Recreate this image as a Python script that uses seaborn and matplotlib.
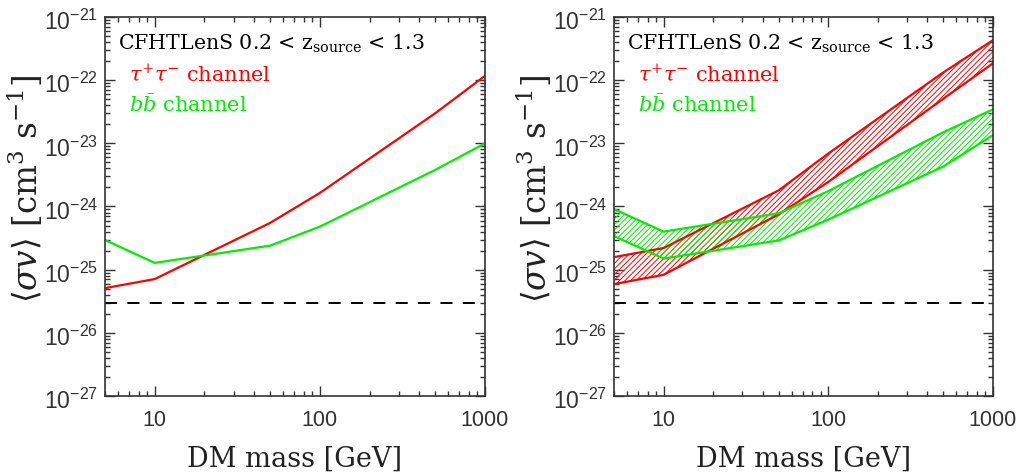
import numpy as np
import pandas as pd
import matplotlib
matplotlib.use("Agg")
import matplotlib.pyplot as plt
import matplotlib.ticker as mticker
import matplotlib.transforms as mtransforms
import seaborn as sns

# ---- data ----
mass = [5, 10, 50, 100, 500, 1000]

# left panel: single limits
tau_left = [5.1e-26, 7.1e-26, 5.5e-25, 1.64e-24, 3.0e-23, 1.17e-22]
bb_left = [2.95e-25, 1.28e-25, 2.4e-25, 4.8e-25, 3.8e-24, 1.0e-23]

# right panel: bands
tau_hi = [1.58e-25, 2.2e-25, 1.8e-24, 6.9e-24, 1.33e-22, 4.3e-22]
tau_lo = [5.9e-26, 8.3e-26, 7.5e-25, 2.45e-24, 5.1e-23, 1.85e-22]
bb_hi = [9.1e-25, 4.0e-25, 7.8e-25, 1.75e-24, 1.5e-23, 3.45e-23]
bb_lo = [3.4e-25, 1.5e-25, 2.9e-25, 6.2e-25, 4.3e-24, 1.35e-23]

thermal = 3e-26

title_text = r"CFHTLenS 0.2 < z$_{\mathrm{source}}$ < 1.3"
tau_text = r"$\tau^{+}\tau^{-}$ channel"
bb_text = r"$b\bar{b}$ channel"
xlabel = "DM mass [GeV]"
ylabel = r"$\langle\sigma v\rangle$ [cm$^{3}$ s$^{-1}$]"

RED = "#ff0000"
GREEN = "#00ee00"

sns.set_style("ticks")
plt.rcParams["font.family"] = ["DejaVu Sans"]
plt.rcParams["hatch.linewidth"] = 0.7

fig = plt.figure(figsize=(10.25, 4.73), dpi=100)
ax1 = fig.add_axes([105 / 1025, 77 / 473, 380 / 1025, 379 / 473])
ax2 = fig.add_axes([614 / 1025, 77 / 473, 379 / 1025, 379 / 473])

df_left = pd.DataFrame({"mass": mass, "tau": tau_left, "bb": bb_left})
df_right = pd.DataFrame({"mass": mass, "tau_hi": tau_hi, "tau_lo": tau_lo,
                         "bb_hi": bb_hi, "bb_lo": bb_lo})

# left panel lines
sns.lineplot(data=df_left, x="mass", y="tau", ax=ax1, color=RED, lw=1.6)
sns.lineplot(data=df_left, x="mass", y="bb", ax=ax1, color=GREEN, lw=1.6)

# right panel bands
for lo, hi, c in [("tau_lo", "tau_hi", RED), ("bb_lo", "bb_hi", GREEN)]:
    ax2.fill_between(df_right["mass"], df_right[lo], df_right[hi],
                     facecolor="none", edgecolor=c, hatch="//////", lw=0)
    sns.lineplot(data=df_right, x="mass", y=lo, ax=ax2, color=c, lw=1.6)
    sns.lineplot(data=df_right, x="mass", y=hi, ax=ax2, color=c, lw=1.6)

for ax in (ax1, ax2):
    ax.axhline(thermal, color="black", lw=1.4, dashes=(6.2, 5.3))
    ax.set_xscale("log")
    ax.set_yscale("log")
    ax.set_xlim(5, 1000)
    ax.set_ylim(1e-27, 1e-21)
    ax.xaxis.set_major_locator(mticker.FixedLocator([10, 100, 1000]))
    ax.xaxis.set_major_formatter(mticker.FixedFormatter(["10", "100", "1000"]))
    ax.xaxis.set_minor_locator(mticker.LogLocator(base=10, subs=np.arange(2, 10)))
    ax.xaxis.set_minor_formatter(mticker.NullFormatter())
    ax.yaxis.set_major_locator(mticker.LogLocator(base=10, numticks=10))
    ax.yaxis.set_minor_locator(mticker.LogLocator(base=10, subs=np.arange(2, 10), numticks=20))
    ax.yaxis.set_minor_formatter(mticker.NullFormatter())
    ax.tick_params(which="both", direction="in", top=True, right=True,
                   colors="#333333", labelcolor="#333333", width=1.0)
    ax.tick_params(which="major", length=7.5)
    ax.tick_params(which="minor", length=3.6)
    ax.tick_params(axis="x", which="major", pad=10, labelsize=15.5)
    ax.tick_params(axis="y", which="major", pad=5, labelsize=16.5)
    for lab in ax.get_xticklabels() + ax.get_yticklabels():
        lab.set_fontfamily("Liberation Sans")
    for sp in ax.spines.values():
        sp.set_color("#333333")
        sp.set_linewidth(1.2)
    ax.set_xlabel(xlabel, fontsize=19.5, family="DejaVu Serif", color="#222222")
    ax.set_ylabel(ylabel, fontsize=23.5, family="DejaVu Serif", color="#222222",
                  math_fontfamily="dejavuserif")
    ax.xaxis.set_label_coords(0.5, -0.13)
    ax.yaxis.set_label_coords(-0.158, 0.545)
    ax.text(0.034, 0.913, title_text, transform=ax.transAxes, fontsize=14.8,
            family="DejaVu Serif", math_fontfamily="dejavuserif", color="black")
    ax.text(0.063, 0.831, tau_text, transform=ax.transAxes, fontsize=15,
            family="DejaVu Serif", math_fontfamily="dejavuserif", color=RED)
    ax.text(0.063, 0.749, bb_text, transform=ax.transAxes, fontsize=15,
            family="DejaVu Serif", math_fontfamily="dejavuserif", color=GREEN)

# nudge the y tick labels slightly down, as in the reference
fig.canvas.draw()
shift = mtransforms.ScaledTranslation(0, -3 / 100, fig.dpi_scale_trans)
for ax in (ax1, ax2):
    for tick in ax.yaxis.get_major_ticks():
        tick.label1.set_transform(tick.label1.get_transform() + shift)
        tick.label1.set_fontfamily("Liberation Sans")

fig.savefig("out.png", dpi=100)
